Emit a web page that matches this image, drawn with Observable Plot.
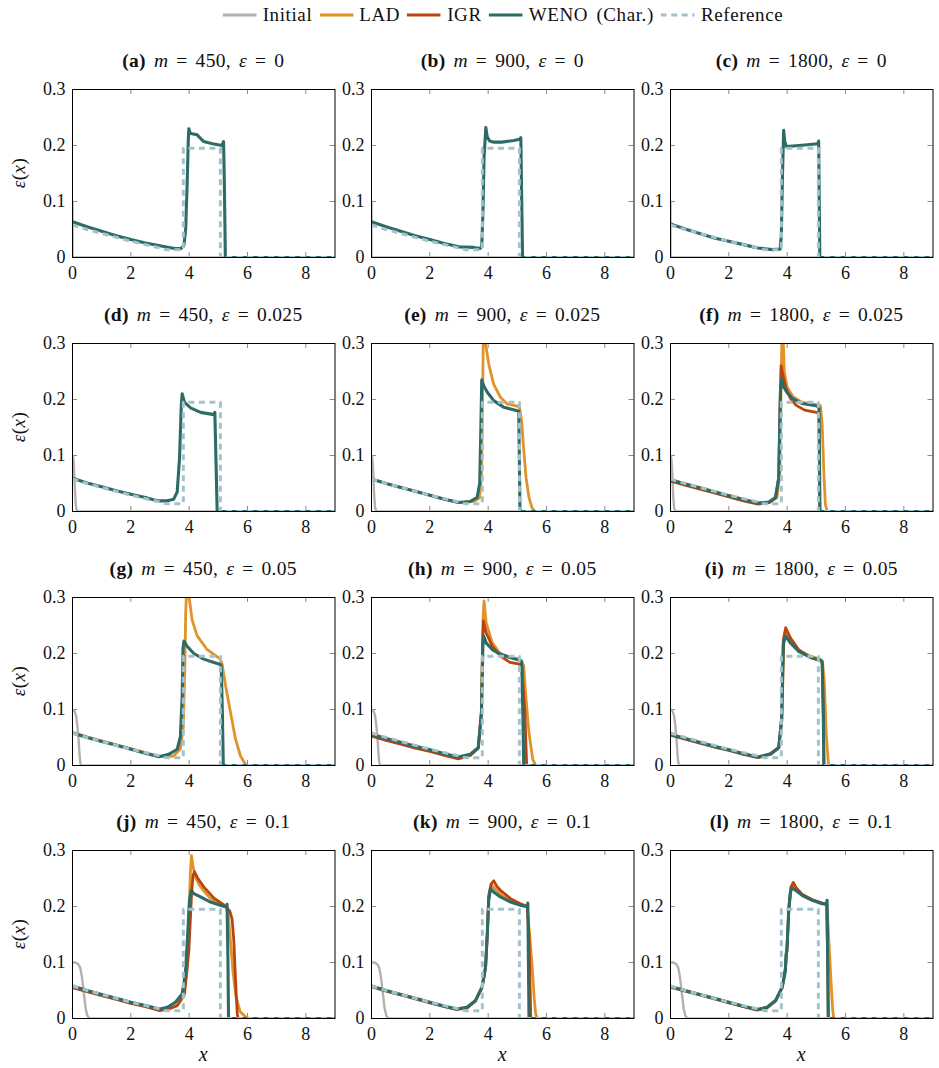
<!DOCTYPE html>
<html>
<head>
<meta charset="utf-8">
<script src="https://cdn.jsdelivr.net/npm/d3@7"></script>
<script src="https://cdn.jsdelivr.net/npm/@observablehq/plot@0.6"></script>
<style>
  body { margin: 0; background: #fff; }
  #fig { position: relative; width: 939px; height: 1068px; font-family: "Liberation Serif", "DejaVu Serif", serif; color: #111; overflow: hidden; }
  #fig > svg { position: absolute; overflow: visible; }
  .title { position: absolute; font-size: 19.5px; letter-spacing: 0.3px; line-height: 1; white-space: nowrap; transform: translateX(-50%); }
  .title .eq { margin: 0 8px; }
  .title .sp { display: inline-block; width: 8px; }
  .ylab { position: absolute; font-size: 19px; letter-spacing: 0.5px; line-height: 1; white-space: nowrap; transform: translate(-50%, -50%) rotate(-90deg); }
  .xlab { position: absolute; font-size: 20px; line-height: 1; transform: translate(-50%, -50%); }
  #legend { position: absolute; top: 4px; left: 503px; transform: translateX(-50%); display: flex; align-items: center; font-size: 19px; letter-spacing: 0.6px; word-spacing: 3px; line-height: 22px; white-space: nowrap; }
  #legend .item { display: flex; align-items: center; margin-right: 7px; }
  #legend .item:last-child { margin-right: 0; }
  #legend svg { position: static; margin-right: 6px; }
</style>
</head>
<body>
<div id="fig"></div>
<script>
// ---- axis ticks ----
const xTicks = [0, 2, 4, 6, 8];
const yTicks = [0, 0.1, 0.2, 0.3];

// ---- panel parameters ----
const panelLetters = ["a", "b", "c", "d", "e", "f", "g", "h", "i", "j", "k", "l"];
const meshSizes = [450, 900, 1800];
const epsLabels = ["0", "0.025", "0.05", "0.1"];

// ---- series ----
const seriesNames = ["Initial", "LAD", "IGR", "WENO (Char.)", "Reference"];
const seriesColors = ["#b4b0ad", "#e2922a", "#b9440f", "#2d6b66", "#a3c2cc"];

// ---- exact (reference) solution, same in every panel ----
const reference = [[0,0.058],[0.5,0.050],[1,0.043],[1.5,0.036],[2,0.029],[2.5,0.023],[3,0.017],[3.2,0.014],[3.8,0.014],[3.8,0.195],[5.07,0.195],[5.07,0],[9,0]];

// ---- initial profiles, one per epsilon ----
const initial_0   = [[0,0.1],[0,0],[9,0]];
const initial_025 = [[0,0.1],[0.03,0.095],[0.06,0.07],[0.09,0.03],[0.12,0.008],[0.16,0],[9,0]];
const initial_05  = [[0,0.1],[0.06,0.098],[0.12,0.09],[0.17,0.07],[0.21,0.045],[0.24,0.02],[0.27,0.004],[0.3,0],[9,0]];
const initial_1   = [[0,0.1],[0.1,0.1],[0.2,0.097],[0.27,0.09],[0.33,0.072],[0.39,0.045],[0.45,0.018],[0.51,0.005],[0.58,0],[9,0]];

// ---- row 1: epsilon = 0 ----
const weno_a = [[0,0.064],[0.5,0.055],[1,0.047],[1.5,0.039],[2,0.032],[2.5,0.026],[3,0.021],[3.5,0.016],[3.72,0.016],[3.82,0.022],[3.88,0.05],[3.93,0.13],[3.97,0.21],[3.99,0.230],[4.03,0.222],[4.1,0.221],[4.27,0.219],[4.5,0.207],[4.8,0.203],[5.13,0.200],[5.18,0.207],[5.21,0.12],[5.24,0],[9,0]];
const weno_b = [[0,0.064],[0.5,0.055],[1,0.047],[1.5,0.039],[2,0.032],[2.5,0.025],[3,0.019],[3.5,0.018],[3.72,0.016],[3.78,0.02],[3.82,0.08],[3.86,0.18],[3.92,0.232],[3.97,0.215],[4.05,0.208],[4.2,0.206],[4.47,0.206],[4.88,0.209],[5.08,0.211],[5.12,0.214],[5.15,0.1],[5.18,0],[9,0]];
const weno_c = [[0,0.060],[0.5,0.051],[1,0.043],[1.5,0.035],[2,0.029],[2.5,0.023],[3,0.017],[3.5,0.014],[3.76,0.015],[3.8,0.04],[3.84,0.15],[3.88,0.227],[3.92,0.206],[3.98,0.198],[4.2,0.199],[4.6,0.201],[5.05,0.203],[5.08,0.208],[5.1,0.1],[5.12,0],[9,0]];

// ---- row 2: epsilon = 0.025 ----
const weno_d = [[0,0.0595],[0.5,0.051],[1,0.044],[1.5,0.037],[2,0.031],[2.5,0.025],[2.9,0.019],[3.25,0.019],[3.47,0.022],[3.59,0.035],[3.67,0.096],[3.73,0.19],[3.76,0.21],[3.84,0.195],[4.05,0.185],[4.39,0.177],[4.85,0.173],[4.88,0.177],[4.92,0.09],[4.96,0],[9,0]];
const lad_e  = [[0,0.058],[0.5,0.050],[1,0.043],[1.5,0.036],[2,0.029],[2.5,0.022],[3,0.016],[3.5,0.018],[3.7,0.024],[3.77,0.06],[3.8,0.16],[3.83,0.3],[3.86,0.36],[3.91,0.30],[4.02,0.263],[4.19,0.227],[4.42,0.204],[4.65,0.192],[5.0,0.188],[5.08,0.185],[5.15,0.16],[5.22,0.11],[5.3,0.06],[5.4,0.025],[5.5,0.007],[5.6,0],[9,0]];
const weno_e = [[0,0.058],[0.5,0.050],[1,0.043],[1.5,0.036],[2,0.029],[2.5,0.022],[3,0.016],[3.39,0.018],[3.62,0.025],[3.71,0.05],[3.75,0.15],[3.78,0.235],[3.85,0.224],[3.97,0.213],[4.19,0.198],[4.54,0.186],[5.0,0.180],[5.05,0.179],[5.07,0.09],[5.09,0],[9,0]];
const lad_f  = [[0,0.057],[0.5,0.050],[1,0.043],[1.5,0.036],[2,0.029],[2.5,0.022],[3,0.015],[3.4,0.016],[3.65,0.025],[3.75,0.07],[3.8,0.25],[3.83,0.34],[3.87,0.30],[3.9,0.25],[4.0,0.222],[4.2,0.205],[4.5,0.195],[5.0,0.191],[5.14,0.189],[5.2,0.156],[5.26,0.067],[5.31,0.013],[5.37,0],[9,0]];
const igr_f  = [[0,0.054],[0.5,0.047],[1,0.040],[1.5,0.033],[2,0.026],[2.5,0.019],[3,0.013],[3.37,0.016],[3.6,0.024],[3.71,0.06],[3.76,0.2],[3.79,0.26],[3.85,0.245],[3.95,0.222],[4.1,0.203],[4.3,0.19],[4.6,0.181],[5.0,0.177],[5.09,0.175],[5.11,0.09],[5.12,0],[9,0]];
const weno_f = [[0,0.0565],[0.5,0.049],[1,0.042],[1.5,0.035],[2,0.028],[2.5,0.021],[3,0.015],[3.37,0.017],[3.6,0.025],[3.71,0.06],[3.77,0.215],[3.81,0.236],[3.89,0.222],[4.0,0.212],[4.2,0.201],[4.5,0.193],[5.0,0.189],[5.09,0.186],[5.11,0.09],[5.12,0],[9,0]];

// ---- row 3: epsilon = 0.05 ----
const lad_g  = [[0,0.059],[0.5,0.051],[1,0.044],[1.5,0.037],[2,0.030],[2.5,0.023],[2.96,0.016],[3.47,0.017],[3.7,0.03],[3.8,0.07],[3.85,0.17],[3.88,0.27],[3.93,0.34],[4.0,0.30],[4.1,0.26],[4.27,0.232],[4.6,0.208],[5.07,0.19],[5.13,0.181],[5.25,0.142],[5.42,0.094],[5.59,0.047],[5.76,0.017],[5.93,0.002],[6.0,0],[9,0]];
const weno_g = [[0,0.058],[0.5,0.050],[1,0.043],[1.5,0.036],[2,0.029],[2.5,0.022],[2.96,0.0155],[3.3,0.02],[3.59,0.029],[3.7,0.052],[3.76,0.124],[3.79,0.21],[3.82,0.222],[3.93,0.213],[4.16,0.2],[4.5,0.19],[4.85,0.184],[5.05,0.181],[5.1,0.178],[5.14,0.09],[5.17,0],[9,0]];
const lad_h  = [[0,0.057],[0.5,0.049],[1,0.042],[1.5,0.035],[2,0.028],[2.5,0.021],[2.98,0.015],[3.39,0.02],[3.66,0.032],[3.77,0.10],[3.82,0.26],[3.86,0.294],[3.93,0.255],[4.14,0.219],[4.41,0.2],[4.75,0.193],[5.08,0.19],[5.22,0.178],[5.29,0.124],[5.4,0.058],[5.53,0.011],[5.63,0],[9,0]];
const igr_h  = [[0,0.0525],[0.5,0.045],[1,0.038],[1.5,0.031],[2,0.025],[2.5,0.018],[2.98,0.012],[3.39,0.018],[3.66,0.031],[3.77,0.094],[3.81,0.22],[3.84,0.258],[3.93,0.237],[4.14,0.213],[4.41,0.196],[4.75,0.184],[5.08,0.181],[5.15,0.178],[5.26,0.094],[5.32,0],[9,0]];
const weno_h = [[0,0.0555],[0.5,0.048],[1,0.041],[1.5,0.034],[2,0.028],[2.5,0.021],[2.98,0.015],[3.39,0.02],[3.66,0.032],[3.77,0.094],[3.82,0.213],[3.85,0.231],[3.93,0.219],[4.14,0.207],[4.41,0.199],[4.75,0.193],[5.08,0.188],[5.15,0.186],[5.19,0.09],[5.22,0],[9,0]];
const lad_i  = [[0,0.056],[0.5,0.049],[1,0.042],[1.5,0.035],[2,0.028],[2.5,0.021],[3.0,0.015],[3.43,0.021],[3.71,0.032],[3.82,0.08],[3.88,0.215],[3.95,0.236],[4.11,0.222],[4.39,0.206],[4.8,0.195],[5.14,0.19],[5.22,0.18],[5.27,0.154],[5.34,0.058],[5.41,0.005],[5.45,0],[9,0]];
const igr_i  = [[0,0.054],[0.5,0.047],[1,0.040],[1.5,0.033],[2,0.027],[2.5,0.020],[3.0,0.014],[3.43,0.02],[3.71,0.031],[3.81,0.085],[3.87,0.225],[3.95,0.246],[4.11,0.228],[4.39,0.207],[4.8,0.193],[5.14,0.187],[5.2,0.185],[5.24,0.09],[5.26,0],[9,0]];
const weno_i = [[0,0.0555],[0.5,0.048],[1,0.041],[1.5,0.034],[2,0.028],[2.5,0.021],[3.0,0.015],[3.43,0.021],[3.71,0.032],[3.81,0.082],[3.87,0.219],[3.95,0.231],[4.11,0.219],[4.39,0.204],[4.8,0.193],[5.14,0.188],[5.2,0.186],[5.24,0.09],[5.26,0],[9,0]];

// ---- row 4: epsilon = 0.1 ----
const lad_j  = [[0,0.0565],[0.5,0.049],[1,0.042],[1.5,0.035],[2,0.028],[2.5,0.022],[2.99,0.015],[3.3,0.017],[3.6,0.024],[3.82,0.04],[3.93,0.09],[3.99,0.17],[4.04,0.26],[4.08,0.291],[4.13,0.272],[4.22,0.252],[4.35,0.238],[4.5,0.228],[4.7,0.216],[4.9,0.208],[5.1,0.203],[5.27,0.198],[5.34,0.185],[5.4,0.15],[5.5,0.085],[5.6,0.04],[5.75,0.012],[5.95,0.002],[6.1,0],[9,0]];
const igr_j  = [[0,0.055],[0.5,0.048],[1,0.041],[1.5,0.034],[2,0.027],[2.5,0.021],[2.99,0.014],[3.3,0.017],[3.59,0.023],[3.84,0.044],[3.99,0.121],[4.08,0.22],[4.13,0.255],[4.18,0.262],[4.3,0.25],[4.5,0.235],[4.85,0.215],[5.19,0.203],[5.39,0.192],[5.47,0.178],[5.53,0.14],[5.59,0.068],[5.65,0.008],[5.68,0],[9,0]];
const weno_j = [[0,0.058],[0.5,0.050],[1,0.043],[1.5,0.036],[2,0.029],[2.5,0.023],[2.99,0.017],[3.25,0.02],[3.53,0.029],[3.76,0.044],[3.87,0.08],[3.95,0.151],[4.01,0.211],[4.07,0.229],[4.16,0.223],[4.39,0.217],[4.73,0.208],[5.07,0.202],[5.28,0.199],[5.3,0.204],[5.33,0.1],[5.35,0],[9,0]];
const lad_k  = [[0,0.058],[0.5,0.050],[1,0.043],[1.5,0.036],[2,0.029],[2.5,0.022],[2.93,0.017],[3.28,0.02],[3.56,0.032],[3.79,0.056],[3.91,0.092],[3.97,0.15],[4.02,0.215],[4.1,0.235],[4.14,0.237],[4.3,0.228],[4.5,0.219],[4.8,0.21],[5.11,0.204],[5.34,0.199],[5.42,0.15],[5.51,0.092],[5.58,0.035],[5.63,0.008],[5.69,0],[9,0]];
const igr_k  = [[0,0.057],[0.5,0.049],[1,0.042],[1.5,0.035],[2,0.028],[2.5,0.021],[2.93,0.016],[3.28,0.019],[3.56,0.031],[3.79,0.055],[3.91,0.09],[3.97,0.15],[4.02,0.22],[4.1,0.24],[4.19,0.246],[4.3,0.236],[4.42,0.229],[4.77,0.214],[5.11,0.205],[5.34,0.2],[5.4,0.15],[5.44,0.05],[5.46,0],[9,0]];
const weno_k = [[0,0.058],[0.5,0.050],[1,0.043],[1.5,0.036],[2,0.029],[2.5,0.022],[2.93,0.017],[3.28,0.02],[3.56,0.032],[3.79,0.056],[3.91,0.092],[3.97,0.151],[4.02,0.211],[4.08,0.232],[4.19,0.226],[4.42,0.217],[4.77,0.208],[5.11,0.202],[5.34,0.2],[5.36,0.206],[5.38,0.1],[5.4,0],[9,0]];
const lad_l  = [[0,0.057],[0.5,0.050],[1,0.043],[1.5,0.036],[2,0.029],[2.5,0.022],[2.97,0.016],[3.31,0.02],[3.6,0.032],[3.83,0.056],[3.94,0.09],[4.0,0.13],[4.06,0.195],[4.13,0.23],[4.2,0.236],[4.3,0.23],[4.51,0.221],[4.86,0.212],[5.2,0.206],[5.36,0.203],[5.42,0.15],[5.5,0.07],[5.56,0.015],[5.6,0],[9,0]];
const igr_l  = [[0,0.056],[0.5,0.049],[1,0.042],[1.5,0.035],[2,0.028],[2.5,0.021],[2.97,0.015],[3.31,0.019],[3.6,0.031],[3.83,0.055],[3.94,0.09],[4.0,0.13],[4.06,0.2],[4.13,0.235],[4.21,0.243],[4.3,0.234],[4.51,0.222],[4.86,0.212],[5.2,0.206],[5.35,0.204],[5.39,0.1],[5.41,0],[9,0]];
const weno_l = [[0,0.057],[0.5,0.050],[1,0.043],[1.5,0.036],[2,0.029],[2.5,0.022],[2.97,0.016],[3.31,0.02],[3.6,0.032],[3.83,0.056],[3.94,0.085],[3.96,0.115],[3.99,0.12],[4.05,0.19],[4.11,0.226],[4.17,0.233],[4.29,0.229],[4.51,0.22],[4.86,0.211],[5.2,0.205],[5.35,0.204],[5.37,0.211],[5.39,0.1],[5.41,0],[9,0]];

// ---- panel table: [initial, LAD, IGR, WENO] per panel ----
const panels = [
  [initial_0,   null,  null,  weno_a], [initial_0,   null,  null,  weno_b], [initial_0,   null,  null,  weno_c],
  [initial_025, null,  null,  weno_d], [initial_025, lad_e, null,  weno_e], [initial_025, lad_f, igr_f, weno_f],
  [initial_05,  lad_g, null,  weno_g], [initial_05,  lad_h, igr_h, weno_h], [initial_05,  lad_i, igr_i, weno_i],
  [initial_1,   lad_j, igr_j, weno_j], [initial_1,   lad_k, igr_k, weno_k], [initial_1,   lad_l, igr_l, weno_l]
];

// ---- layout ----
const PW = 262.5, PH = 168;
const colLeft = [72, 371, 670];
const rowTop = [89, 343, 597, 850];
const ML = 52, MR = 10, MT = 10, MB = 34;
const tickColor = "#8a8a8a";
const lineWidths = [2.4, 2.8, 2.8, 3.1, 3];
const serif = '"Liberation Serif", "DejaVu Serif", serif';

const fig = document.getElementById("fig");

// legend
const legend = document.createElement("div");
legend.id = "legend";
seriesNames.forEach((name, i) => {
  const item = document.createElement("div");
  item.className = "item";
  const dash = i === 4 ? ' stroke-dasharray="6,4.5"' : "";
  item.innerHTML = `<svg width="34" height="10"><line x1="0" x2="34" y1="5" y2="5" stroke="${seriesColors[i]}" stroke-width="3"${dash}/></svg><span>${name}</span>`;
  legend.appendChild(item);
});
fig.appendChild(legend);

panels.forEach((p, idx) => {
  const r = Math.floor(idx / 3), c = idx % 3;
  const left = colLeft[c], top = rowTop[r];

  const marks = [
    Plot.ruleX(xTicks, {x: d => d, stroke: tickColor, insetTop: PH - 5}),
    Plot.ruleX(xTicks, {x: d => d, stroke: tickColor, insetBottom: PH - 5}),
    Plot.ruleY(yTicks, {y: d => d, stroke: tickColor, insetRight: PW - 5}),
    Plot.ruleY(yTicks, {y: d => d, stroke: tickColor, insetLeft: PW - 5}),
    Plot.axisX({ticks: xTicks, tickSize: 0, tickPadding: 9, label: null, tickFormat: d => String(d), fill: "#111", fontFamily: serif}),
    Plot.axisY({ticks: yTicks, tickSize: 0, tickPadding: 7, label: null, tickFormat: d => String(d), fill: "#111", fontFamily: serif})
  ];
  p.forEach((data, k) => {
    if (!data) return;
    marks.push(Plot.line(data, {x: d => d[0], y: d => d[1], stroke: seriesColors[k], strokeWidth: lineWidths[k], clip: true}));
  });
  marks.push(Plot.line(reference, {x: d => d[0], y: d => d[1], stroke: seriesColors[4], strokeWidth: lineWidths[4], strokeDasharray: "6,4.5", strokeLinecap: "butt", clip: true}));
  marks.push(Plot.frame({stroke: "#000", strokeWidth: 1}));

  const svg = Plot.plot({
    width: PW + ML + MR,
    height: PH + MT + MB,
    marginLeft: ML, marginRight: MR, marginTop: MT, marginBottom: MB,
    x: {domain: [0, 9]},
    y: {domain: [0, 0.3]},
    style: {fontFamily: serif, fontSize: "18px", background: "transparent", color: "#111", overflow: "visible"},
    marks
  });
  svg.style.left = (left - ML) + "px";
  svg.style.top = (top - MT) + "px";
  fig.appendChild(svg);

  const t = document.createElement("div");
  t.className = "title";
  t.style.left = (left + PW / 2) + "px";
  t.style.top = (top - 38) + "px";
  t.innerHTML = `<b>(${panelLetters[idx]})</b><span class="sp"></span><i>m</i><span class="eq">=</span>${meshSizes[c]},<span class="sp"></span><i>ε</i><span class="eq">=</span>${epsLabels[r]}`;
  fig.appendChild(t);

  if (c === 0) {
    const yl = document.createElement("div");
    yl.className = "ylab";
    yl.style.left = "18px";
    yl.style.top = (top + PH / 2) + "px";
    yl.innerHTML = "<i>ε</i>(<i>x</i>)";
    fig.appendChild(yl);
  }
  if (r === 3) {
    const xl = document.createElement("div");
    xl.className = "xlab";
    xl.style.left = (left + PW / 2) + "px";
    xl.style.top = "1054px";
    xl.innerHTML = "<i>x</i>";
    fig.appendChild(xl);
  }
});
</script>
</body>
</html>
